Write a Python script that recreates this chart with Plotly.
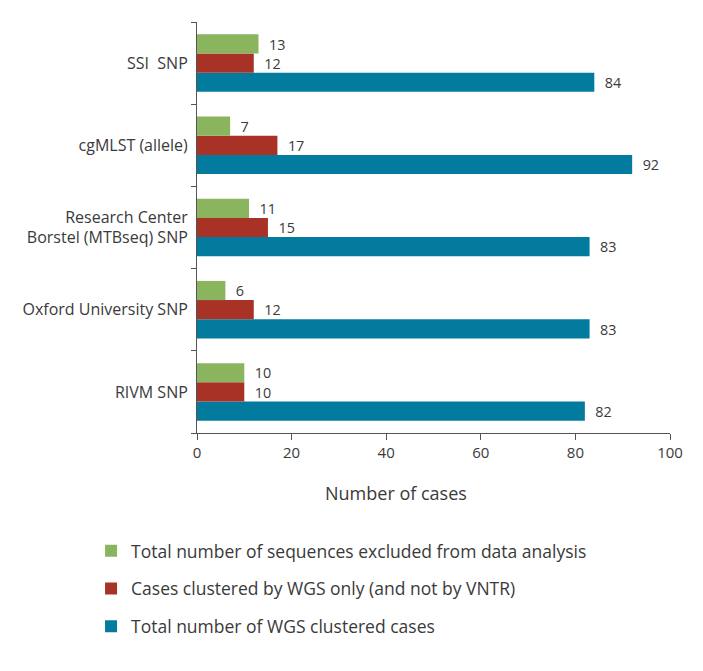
import plotly.graph_objects as go

categories = ["RIVM SNP", "Oxford University SNP", "Research Center<br>Borstel (MTBseq) SNP",
              "cgMLST (allele)", "SSI  SNP"]
excluded = [10, 6, 11, 7, 13]
wgs_only = [10, 12, 15, 17, 12]
wgs_total = [82, 83, 83, 92, 84]

series_names = ["Total number of sequences excluded from data analysis",
                "Cases clustered by WGS only (and not by VNTR)",
                "Total number of WGS clustered cases"]
colors = ["#8bb45f", "#a83226", "#037b9f"]
x_title = "Number of cases"

font_family = "Open Sans, Noto Sans, sans-serif"
txt = "#3a3a3a"

fig = go.Figure()
# Plotly puts the first horizontal trace lowest in each group, so add blue first
for name, vals, col, rank in [(series_names[2], wgs_total, colors[2], 3),
                              (series_names[1], wgs_only, colors[1], 2),
                              (series_names[0], excluded, colors[0], 1)]:
    fig.add_trace(go.Bar(
        y=categories, x=vals, orientation="h", name=name,
        marker=dict(color=col, line=dict(width=0)),
        text=vals, texttemplate="  %{text}", textposition="outside",
        textfont=dict(size=15, color=txt, family=font_family),
        cliponaxis=False, legendrank=rank, legendgroup=name,
    ))

fig.add_annotation(text=x_title, xref="paper", yref="paper", x=0.42, y=-0.145,
                   xanchor="center", yanchor="middle", showarrow=False,
                   font=dict(size=18, color=txt, family=font_family))

fig.update_layout(
    width=703, height=671,
    barmode="group", bargap=0.3, bargroupgap=0,
    plot_bgcolor="white", paper_bgcolor="white",
    margin=dict(l=189, r=41, t=14, b=246),
    font=dict(family=font_family, color=txt, size=14),
    xaxis=dict(range=[0, 100], dtick=20, showgrid=False, zeroline=False,
               showline=True, linecolor="#555", linewidth=1,
               ticks="outside", ticklen=6, tickcolor="#555",
               tickfont=dict(size=15, color=txt), automargin=False),
    yaxis=dict(categoryorder="array", categoryarray=categories, showgrid=False,
               showline=True, linecolor="#555", linewidth=1,
               ticks="outside", ticklen=5, tickcolor="#555", tickson="boundaries",
               ticklabelstandoff=5,
               tickfont=dict(size=16, color=txt), automargin=False),
    legend=dict(orientation="v", x=-0.224, xanchor="left", y=-0.243, yanchor="top",
                font=dict(size=17.5, color=txt), tracegroupgap=12,
                traceorder="grouped"),
    showlegend=True,
)

fig.write_html("out.html")
